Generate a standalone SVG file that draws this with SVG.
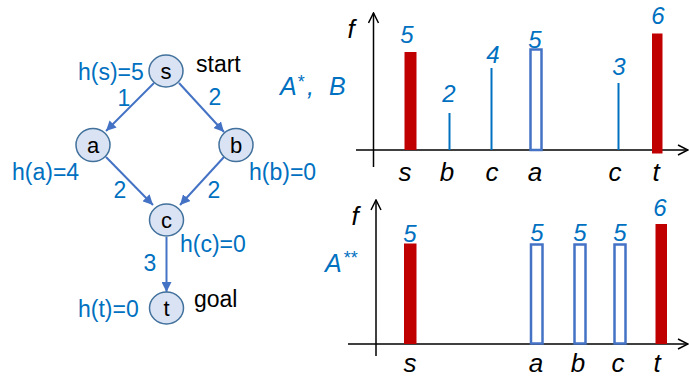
<svg xmlns="http://www.w3.org/2000/svg" width="689" height="377" viewBox="0 0 689 377">
<style>
.lbl{font-family:"Liberation Sans",Arial,sans-serif;font-size:23px;fill:#0070C0}
.blk{font-family:"Liberation Sans",Arial,sans-serif;font-size:23px;fill:#000}
.nd{font-family:"Liberation Sans",Arial,sans-serif;font-size:22px;fill:#000;text-anchor:middle}
.node{fill:#DAE3F3;stroke:#41719C;stroke-width:1.5}
.edge{stroke:#4472C4;stroke-width:2;fill:none}
.axis{stroke:#000;stroke-width:1.5;fill:none}
.num{font-family:"Liberation Sans",Arial,sans-serif;font-style:italic;font-size:24px;fill:#0070C0;text-anchor:middle}
.xl{font-family:"Liberation Sans",Arial,sans-serif;font-style:italic;font-size:26px;fill:#000;text-anchor:middle}
.alg{font-family:"Liberation Sans",Arial,sans-serif;font-style:italic;font-size:25px;fill:#0070C0}
.sup{font-family:"Liberation Sans",Arial,sans-serif;font-style:italic;font-size:18px;fill:#0070C0}
.red{fill:#C00000}
.hol{fill:none;stroke:#4472C4;stroke-width:2.5}
.stem{stroke:#0070C0;stroke-width:2}
</style>
<defs>
<marker id="ah" viewBox="0 0 10 10" refX="10" refY="5" markerWidth="10" markerHeight="10" markerUnits="userSpaceOnUse" orient="auto">
<path d="M0,0 L10,5 L0,10 z" fill="#4472C4"/>
</marker>
<marker id="ax" viewBox="0 0 12 12" refX="11" refY="6" markerWidth="12" markerHeight="12" markerUnits="userSpaceOnUse" orient="auto">
<path d="M1,1 L11,6 L1,11" fill="none" stroke="#000" stroke-width="1.5"/>
</marker>
</defs>

<g id="connectors">
<line class="edge" x1="154" y1="83" x2="106" y2="131" marker-end="url(#ah)"/>
<line class="edge" x1="179" y1="83" x2="224" y2="132" marker-end="url(#ah)"/>
<line class="edge" x1="106" y1="157" x2="153" y2="205" marker-end="url(#ah)"/>
<line class="edge" x1="224" y1="157" x2="180" y2="205" marker-end="url(#ah)"/>
<line class="edge" x1="166.5" y1="237" x2="166.5" y2="292" marker-end="url(#ah)"/>
</g>

<g id="node-s">
<ellipse class="node" cx="166" cy="71" rx="17" ry="16"/>
<text class="nd" x="166" y="79">s</text>
</g>
<g id="node-a">
<ellipse class="node" cx="93" cy="145" rx="17" ry="16.5"/>
<text class="nd" x="93" y="153">a</text>
</g>
<g id="node-b">
<ellipse class="node" cx="236" cy="145" rx="17" ry="16.5"/>
<text class="nd" x="236" y="153">b</text>
</g>
<g id="node-c">
<ellipse class="node" cx="166.5" cy="220" rx="17" ry="16"/>
<text class="nd" x="166.5" y="228">c</text>
</g>
<g id="node-t">
<ellipse class="node" cx="166.5" cy="308" rx="17" ry="16"/>
<text class="nd" x="166.5" y="316">t</text>
</g>

<g id="graph-labels">
<text class="lbl" x="78" y="80">h(s)=5</text>
<text class="blk" x="196" y="72">start</text>
<text class="lbl" x="124" y="106" text-anchor="middle">1</text>
<text class="lbl" x="215" y="105" text-anchor="middle">2</text>
<text class="lbl" x="12" y="180">h(a)=4</text>
<text class="lbl" x="249" y="180">h(b)=0</text>
<text class="lbl" x="120" y="198" text-anchor="middle">2</text>
<text class="lbl" x="214" y="198" text-anchor="middle">2</text>
<text class="lbl" x="180" y="252">h(c)=0</text>
<text class="lbl" x="150" y="271" text-anchor="middle">3</text>
<text class="lbl" x="78" y="317">h(t)=0</text>
<text class="blk" x="194" y="307">goal</text>
</g>

<g id="chart-top">
<line class="axis" x1="373.5" y1="167" x2="373.5" y2="13" marker-end="url(#ax)"/>
<line class="axis" x1="356" y1="150" x2="688" y2="150" marker-end="url(#ax)"/>
<text class="xl" x="351" y="38">f</text>
<rect class="red" x="404.5" y="52" width="12" height="98"/>
<line class="stem" x1="449.5" y1="113" x2="449.5" y2="150"/>
<line class="stem" x1="491.5" y1="68" x2="491.5" y2="150"/>
<rect class="hol" x="530.5" y="49.5" width="11" height="100.5"/>
<line class="stem" x1="618.5" y1="83" x2="618.5" y2="150"/>
<rect class="red" x="652" y="33.5" width="10.5" height="120"/>
<text class="num" x="407" y="43">5</text>
<text class="num" x="449" y="102">2</text>
<text class="num" x="493" y="63">4</text>
<text class="num" x="535" y="48">5</text>
<text class="num" x="619" y="75">3</text>
<text class="num" x="658" y="24">6</text>
<text class="xl" x="405" y="181">s</text>
<text class="xl" x="447" y="181">b</text>
<text class="xl" x="492" y="181">c</text>
<text class="xl" x="535" y="181">a</text>
<text class="xl" x="615" y="181">c</text>
<text class="xl" x="656" y="181">t</text>
<text class="alg" x="280" y="95">A</text>
<text class="sup" x="297" y="88">*</text>
<text class="alg" x="307" y="95">,</text>
<text class="alg" x="329" y="95">B</text>
</g>

<g id="chart-bottom">
<line class="axis" x1="376" y1="356" x2="376" y2="200" marker-end="url(#ax)"/>
<line class="axis" x1="348" y1="344" x2="688" y2="344" marker-end="url(#ax)"/>
<text class="xl" x="355" y="225">f</text>
<rect class="red" x="404" y="243.5" width="12.5" height="100.5"/>
<rect class="hol" x="531" y="244.5" width="11.5" height="99"/>
<rect class="hol" x="574.5" y="244.5" width="11" height="99"/>
<rect class="hol" x="614.5" y="244.5" width="11" height="99"/>
<rect class="red" x="655.5" y="224" width="11.5" height="120"/>
<text class="num" x="410" y="242">5</text>
<text class="num" x="537" y="241">5</text>
<text class="num" x="580" y="241">5</text>
<text class="num" x="620" y="241">5</text>
<text class="num" x="660" y="216">6</text>
<text class="xl" x="410" y="372">s</text>
<text class="xl" x="536" y="372">a</text>
<text class="xl" x="578" y="372">b</text>
<text class="xl" x="618" y="372">c</text>
<text class="xl" x="657" y="372">t</text>
<text class="alg" x="325" y="272">A</text>
<text class="sup" x="343" y="264">**</text>
</g>
</svg>
